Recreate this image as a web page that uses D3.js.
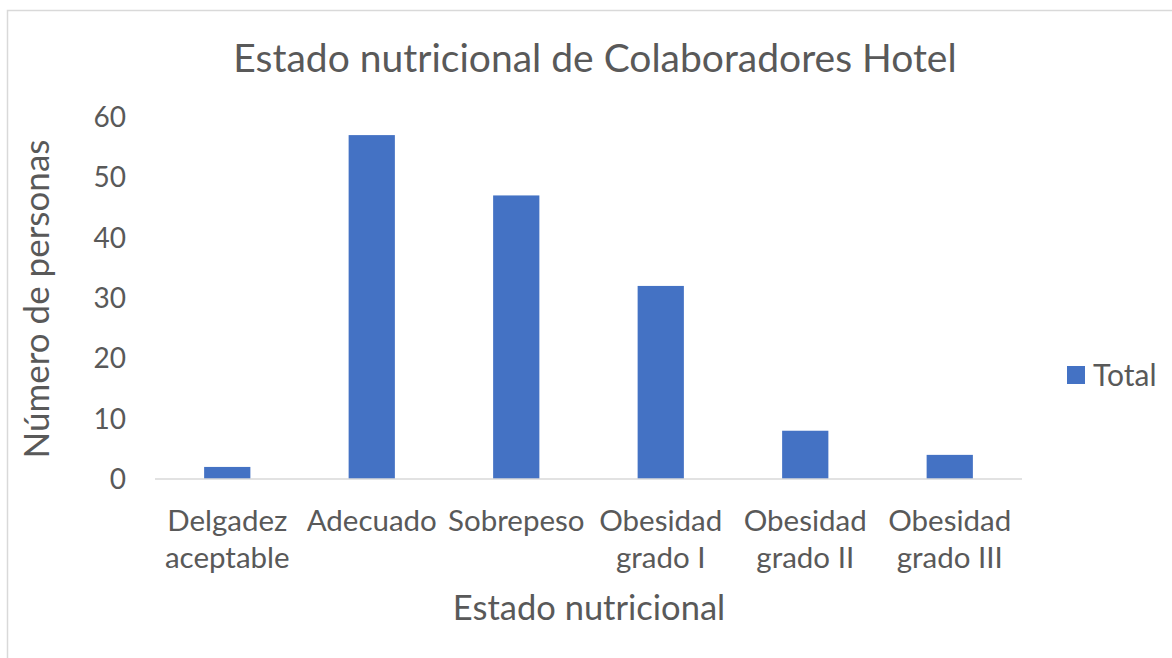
<!DOCTYPE html>
<html>
<head>
<meta charset="utf-8">
<script src="https://cdn.jsdelivr.net/npm/d3@7"></script>
<style>
  body { margin: 0; background: #fff; }
  text { font-family: Lato, "Open Sans", sans-serif; fill: #595959; }
</style>
</head>
<body>
<div id="chart"></div>
<script>
var categories = [["Delgadez", "aceptable"], ["Adecuado"], ["Sobrepeso"], ["Obesidad", "grado I"], ["Obesidad", "grado II"], ["Obesidad", "grado III"]];
var totals = [2, 57, 47, 32, 8, 4];
var yTicks = [0, 10, 20, 30, 40, 50, 60];

var width = 1172, height = 658;
var svg = d3.select("#chart").append("svg").attr("width", width).attr("height", height);

// chart frame
svg.append("rect")
    .attr("x", 7.5).attr("y", 10.5)
    .attr("width", width + 10).attr("height", height + 10)
    .attr("fill", "none").attr("stroke", "#d9d9d9").attr("stroke-width", 1.5);

var keys = categories.map(function (d) { return d.join(" "); });

var x = d3.scaleBand().domain(keys).range([155, 1022]).paddingInner(0.68).paddingOuter(0.34);
var y = d3.scaleLinear().domain([0, 60]).range([479, 117]);

svg.append("text")
    .attr("x", 595).attr("y", 72)
    .attr("text-anchor", "middle")
    .style("font-size", "39px")
    .text("Estado nutricional de Colaboradores Hotel");

// y tick labels
svg.selectAll(".ytick").data(yTicks).enter().append("text")
    .attr("class", "ytick")
    .attr("x", 126).attr("y", function (d) { return y(d) + 10; })
    .attr("text-anchor", "end")
    .style("font-size", "28px")
    .text(function (d) { return d; });

svg.selectAll(".bar").data(totals).enter().append("rect")
    .attr("class", "bar")
    .attr("x", function (d, i) { return x(keys[i]); })
    .attr("width", x.bandwidth())
    .attr("y", function (d) { return y(d); })
    .attr("height", function (d) { return y(0) - y(d); })
    .attr("fill", "#4472c4");

svg.append("line")
    .attr("x1", 155).attr("x2", 1022)
    .attr("y1", y(0)).attr("y2", y(0))
    .attr("stroke", "#d9d9d9").attr("stroke-width", 1.5);

var xl = svg.selectAll(".xlab").data(categories).enter().append("text")
    .attr("class", "xlab")
    .attr("text-anchor", "middle")
    .style("font-size", "29.5px")
    .attr("transform", function (d, i) {
        return "translate(" + (x(keys[i]) + x.bandwidth() / 2) + ",531)";
    });
xl.selectAll("tspan").data(function (d) { return d; }).enter().append("tspan")
    .attr("x", 0)
    .attr("y", function (d, i) { return i * 37; })
    .text(function (d) { return d; });

svg.append("text")
    .attr("x", 589).attr("y", 620)
    .attr("text-anchor", "middle")
    .style("font-size", "34.5px")
    .text("Estado nutricional");

svg.append("text")
    .attr("transform", "translate(49,299) rotate(-90)")
    .attr("text-anchor", "middle")
    .style("font-size", "35px")
    .text("Número de personas");

// legend
svg.append("rect")
    .attr("x", 1067).attr("y", 366).attr("width", 18).attr("height", 18)
    .attr("fill", "#4472c4");
svg.append("text")
    .attr("x", 1093).attr("y", 386)
    .style("font-size", "30px")
    .text("Total");
</script>
</body>
</html>
